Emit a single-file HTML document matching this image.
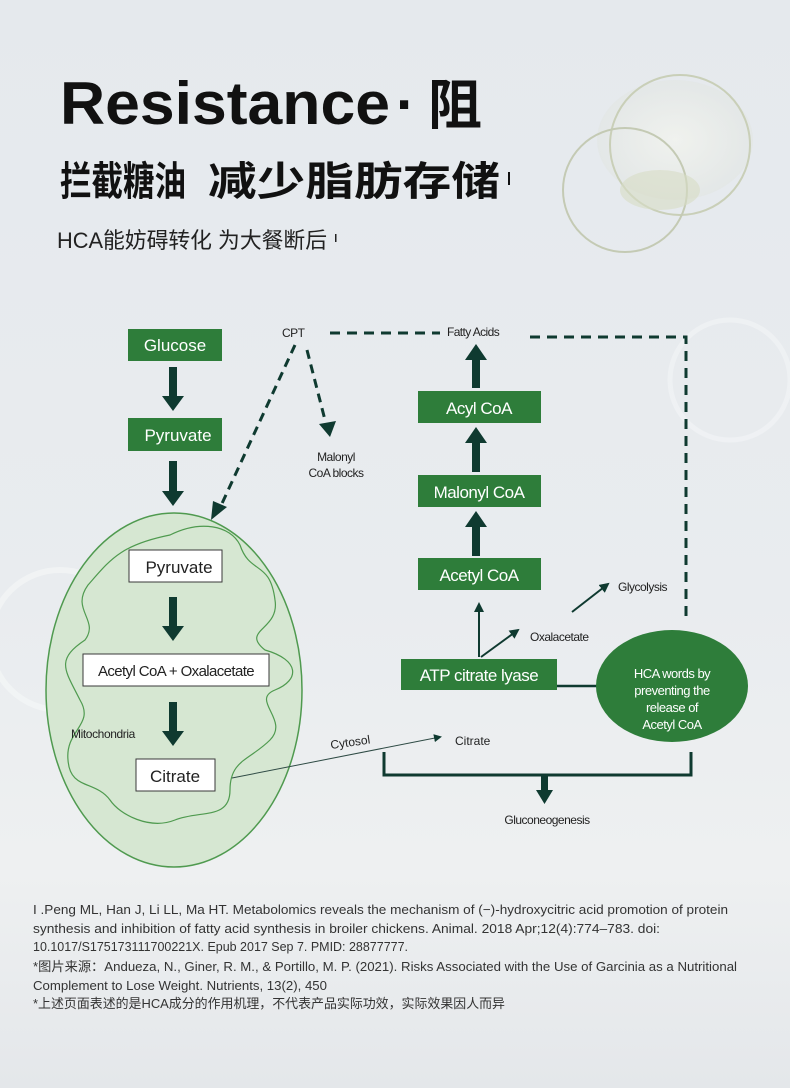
<!DOCTYPE html>
<html><head><meta charset="utf-8"><style>
html,body{margin:0;padding:0;}
body{width:790px;height:1088px;overflow:hidden;background:linear-gradient(#e5e9ed 0%,#e9ecef 55%,#eef0f1 80%,#e4e7ea 100%);}
svg{display:block}
text{font-family:"Liberation Sans","Noto Sans CJK SC",sans-serif;}
</style></head><body>
<svg width="790" height="1088" viewBox="0 0 790 1088" xmlns="http://www.w3.org/2000/svg">
<defs>
<marker id="ah" markerWidth="8" markerHeight="8" refX="6" refY="4" orient="auto" markerUnits="userSpaceOnUse"><path d="M0,0 L8,4 L0,8 z" fill="#0f3a30"/></marker>
<marker id="ahs" markerWidth="10" markerHeight="10" refX="8" refY="5" orient="auto" markerUnits="userSpaceOnUse"><path d="M0,0 L10,5 L0,10 z" fill="#0f3a30"/></marker>
<radialGradient id="gl" cx="0.5" cy="0.5" r="0.5"><stop offset="0" stop-color="#f4f5ee"/><stop offset="1" stop-color="#e2e6e4"/></radialGradient>
</defs>
<!-- decorative glass -->
<ellipse cx="675" cy="140" rx="78" ry="60" fill="url(#gl)" opacity="0.7"/>
<circle cx="680" cy="145" r="70" fill="none" stroke="#c9cfb8" stroke-width="2"/>
<circle cx="625" cy="190" r="62" fill="none" stroke="#c4cab4" stroke-width="2"/>
<ellipse cx="660" cy="190" rx="40" ry="20" fill="#d7dcc4" opacity="0.6"/>
<circle cx="60" cy="640" r="70" fill="none" stroke="#f4f6f7" stroke-width="6" opacity="0.7"/>
<circle cx="730" cy="380" r="60" fill="none" stroke="#f3f5f6" stroke-width="5" opacity="0.6"/>

<!-- Title -->
<text x="60" y="124" font-size="60" font-weight="bold" fill="#111" textLength="330" lengthAdjust="spacingAndGlyphs">Resistance</text>
<text x="396" y="124" font-size="58" font-weight="bold" fill="#111">·</text>
<text x="428" y="124" font-size="54" font-weight="bold" fill="#111" font-family="Noto Sans CJK SC, sans-serif">阻</text>
<text x="60" y="195" font-size="40" font-weight="bold" fill="#111" font-family="Noto Sans CJK SC, sans-serif" textLength="126" lengthAdjust="spacingAndGlyphs">拦截糖油</text>
<text x="208" y="195" font-size="40" font-weight="bold" fill="#111" font-family="Noto Sans CJK SC, sans-serif" textLength="292" lengthAdjust="spacingAndGlyphs">减少脂肪存储</text>
<rect x="508" y="172" width="2" height="13" fill="#111"/>
<text x="57" y="248" font-size="22" fill="#222" textLength="270" lengthAdjust="spacingAndGlyphs">HCA能妨碍转化 为大餐断后</text>
<rect x="335" y="234" width="1.5" height="8" fill="#222"/>

<!-- Mitochondria -->
<ellipse cx="174" cy="690" rx="128" ry="177" fill="#d6e7d2" stroke="#4f9a4f" stroke-width="1.5"/>
<path d="M170,535 C200,520 230,525 240,545 C250,575 270,560 275,600 C280,630 240,630 265,650 C300,660 300,680 275,690 C250,700 290,720 270,740 C250,760 230,760 230,790 C230,820 200,810 175,820 C150,830 120,815 110,800 C95,780 70,790 68,760 C65,730 95,725 80,700 C65,670 55,660 85,640 C100,620 70,610 88,585 C110,560 120,545 170,535 Z" fill="none" stroke="#4f9a4f" stroke-width="1.2"/>

<!-- Left boxes -->
<rect x="128" y="329" width="94" height="32" fill="#2e7d3a"/>
<text x="175" y="351" font-size="17" fill="#fff" text-anchor="middle">Glucose</text>
<rect x="128" y="418" width="94" height="33" fill="#2e7d3a"/>
<text x="178" y="441" font-size="17" fill="#fff" text-anchor="middle">Pyruvate</text>

<g fill="#0f3a30">
<rect x="169" y="367" width="8" height="31"/><path d="M162,396 L184,396 L173,411 z"/>
<rect x="169" y="461" width="8" height="32"/><path d="M162,491 L184,491 L173,506 z"/>
<rect x="169" y="597" width="8" height="31"/><path d="M162,626 L184,626 L173,641 z"/>
<rect x="169" y="702" width="8" height="31"/><path d="M162,731 L184,731 L173,746 z"/>
</g>

<rect x="129" y="550" width="93" height="32" fill="#fff" stroke="#3a3a3a" stroke-width="1"/>
<text x="179" y="573" font-size="17" fill="#222" text-anchor="middle">Pyruvate</text>
<rect x="83" y="654" width="186" height="32" fill="#fff" stroke="#3a3a3a" stroke-width="1"/>
<text x="176" y="676" font-size="15" fill="#222" text-anchor="middle" letter-spacing="-0.6">Acetyl CoA  + Oxalacetate</text>
<rect x="136" y="759" width="79" height="32" fill="#fff" stroke="#3a3a3a" stroke-width="1"/>
<text x="175" y="782" font-size="17" fill="#222" text-anchor="middle">Citrate</text>
<text x="71" y="738" font-size="12" fill="#222" letter-spacing="-0.4">Mitochondria</text>

<!-- Cytosol -->
<line x1="232" y1="778" x2="440" y2="737" stroke="#2e4a44" stroke-width="1" marker-end="url(#ah)"/>
<text x="331" y="749" font-size="12" fill="#222" transform="rotate(-8 331 749)">Cytosol</text>
<text x="455" y="745" font-size="12" fill="#222">Citrate</text>

<!-- CPT -->
<text x="282" y="337" font-size="12" fill="#222" letter-spacing="-0.5">CPT</text>
<path d="M330,333 L440,333" stroke="#0f3a30" stroke-width="3" stroke-dasharray="10,7" fill="none"/>
<text x="447" y="336" font-size="12" fill="#222" letter-spacing="-0.6">Fatty Acids</text>
<path d="M530,337 L686,337 L686,620" stroke="#0f3a30" stroke-width="3" stroke-dasharray="10,7" fill="none"/>
<path d="M295,345 L219,510" stroke="#0f3a30" stroke-width="3" stroke-dasharray="9,6" fill="none"/>
<path d="M211,520 L213,501 L227,507 z" fill="#0f3a30"/>
<path d="M307,350 L325,420" stroke="#0f3a30" stroke-width="3" stroke-dasharray="9,6" fill="none"/>
<path d="M319,424 L336,421 L330,437 z" fill="#0f3a30"/>
<text x="336" y="461" font-size="12" fill="#222" text-anchor="middle" letter-spacing="-0.5">Malonyl</text>
<text x="336" y="477" font-size="12" fill="#222" text-anchor="middle" letter-spacing="-0.5">CoA blocks</text>

<!-- Right column -->
<g fill="#0f3a30">
<rect x="472" y="357" width="8" height="31"/><path d="M465,360 L487,360 L476,344 z"/>
<rect x="472" y="440" width="8" height="32"/><path d="M465,443 L487,443 L476,427 z"/>
<rect x="472" y="524" width="8" height="32"/><path d="M465,527 L487,527 L476,511 z"/>
</g>
<rect x="418" y="391" width="123" height="32" fill="#2e7d3a"/>
<text x="479" y="414" font-size="17" fill="#fff" text-anchor="middle" letter-spacing="-0.5">Acyl CoA</text>
<rect x="418" y="475" width="123" height="32" fill="#2e7d3a"/>
<text x="479" y="498" font-size="17" fill="#fff" text-anchor="middle" letter-spacing="-0.5">Malonyl CoA</text>
<rect x="418" y="558" width="123" height="32" fill="#2e7d3a"/>
<text x="479" y="581" font-size="17" fill="#fff" text-anchor="middle" letter-spacing="-0.5">Acetyl CoA</text>
<rect x="401" y="659" width="156" height="31" fill="#2e7d3a"/>
<text x="479" y="681" font-size="17" fill="#fff" text-anchor="middle" letter-spacing="-0.5">ATP citrate lyase</text>

<line x1="479" y1="657" x2="479" y2="604" stroke="#0f3a30" stroke-width="2" marker-end="url(#ahs)"/>
<line x1="481" y1="657" x2="518" y2="630" stroke="#0f3a30" stroke-width="2" marker-end="url(#ahs)"/>
<text x="530" y="641" font-size="12" fill="#222" letter-spacing="-0.5">Oxalacetate</text>
<line x1="572" y1="612" x2="608" y2="584" stroke="#0f3a30" stroke-width="2" marker-end="url(#ahs)"/>
<text x="618" y="591" font-size="12" fill="#222" letter-spacing="-0.5">Glycolysis</text>

<line x1="557" y1="686" x2="597" y2="686" stroke="#0f3a30" stroke-width="2.5"/>
<ellipse cx="672" cy="686" rx="76" ry="56" fill="#2e7d3a"/>
<g font-size="13" fill="#fff" text-anchor="middle" letter-spacing="-0.5">
<text x="672" y="678">HCA words by</text>
<text x="672" y="695">preventing the</text>
<text x="672" y="712">release of</text>
<text x="672" y="729">Acetyl CoA</text>
</g>

<!-- bracket -->
<path d="M384,752 L384,775 L691,775 L691,752" stroke="#0f3a30" stroke-width="3" fill="none"/>
<rect x="541" y="775" width="7" height="17" fill="#0f3a30"/>
<path d="M536,790 L553,790 L544.5,804 z" fill="#0f3a30"/>
<text x="547" y="824" font-size="12" fill="#222" text-anchor="middle" letter-spacing="-0.5">Gluconeogenesis</text>

<!-- footer -->
<g font-size="13" fill="#333">
<text x="33" y="914" textLength="695" lengthAdjust="spacingAndGlyphs">I .Peng ML, Han J, Li LL, Ma HT. Metabolomics reveals the mechanism of (−)-hydroxycitric acid promotion of protein</text>
<text x="33" y="933" textLength="627" lengthAdjust="spacingAndGlyphs">synthesis and inhibition of fatty acid synthesis in broiler chickens. Animal. 2018 Apr;12(4):774–783. doi:</text>
<text x="33" y="951" textLength="375" lengthAdjust="spacingAndGlyphs">10.1017/S175173111700221X. Epub 2017 Sep 7. PMID: 28877777.</text>
<text x="33" y="971" textLength="704" lengthAdjust="spacingAndGlyphs">*图片来源：Andueza, N., Giner, R. M., &amp; Portillo, M. P. (2021). Risks Associated with the Use of Garcinia as a Nutritional</text>
<text x="33" y="990" textLength="294" lengthAdjust="spacingAndGlyphs">Complement to Lose Weight. Nutrients, 13(2), 450</text>
<text x="33" y="1008" textLength="472" lengthAdjust="spacingAndGlyphs">*上述页面表述的是HCA成分的作用机理，不代表产品实际功效，实际效果因人而异</text>
</g>
</svg>
</body></html>
